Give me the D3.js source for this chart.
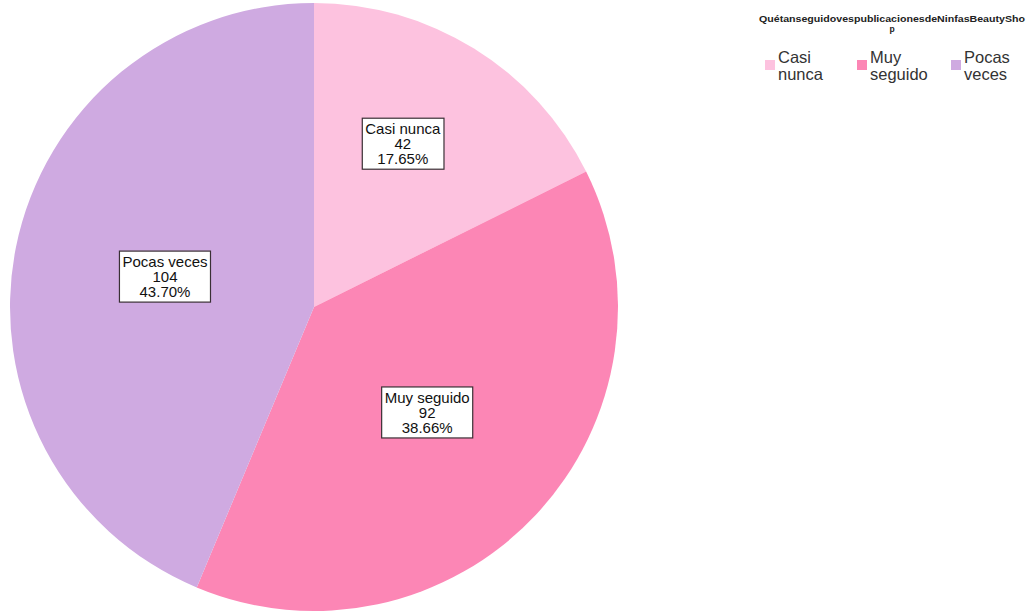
<!DOCTYPE html>
<html>
<head>
<meta charset="utf-8">
<script src="https://cdn.jsdelivr.net/npm/d3@7"></script>
<style>
  html, body { margin: 0; padding: 0; background: #ffffff; }
  svg { display: block; font-family: "Liberation Sans", Arial, sans-serif; }
</style>
</head>
<body>
<svg id="chart" width="1033" height="613"></svg>
<script>
// Responses to "¿Qué tan seguido ves publicaciones de Ninfas Beauty Shop?"
const categories = ["Casi nunca", "Muy seguido", "Pocas veces"];
const counts = [42, 92, 104];
const percentLabels = ["17.65%", "38.66%", "43.70%"];
const legendLines = [["Casi", "nunca"], ["Muy", "seguido"], ["Pocas", "veces"]];
const legendTitle = ["QuétanseguidovespublicacionesdeNinfasBeautySho", "p"];

const colors = ["#fdc2df", "#fc86b5", "#cfaae1"];

const svg = d3.select("#chart");
const cx = 314, cy = 307, R = 304;

const data = categories.map((c, i) => ({ cat: c, value: counts[i], pct: percentLabels[i], color: colors[i] }));

const pie = d3.pie().value(d => d.value).sort(null);
const arcs = pie(data);
const arc = d3.arc().innerRadius(0).outerRadius(R);

const g = svg.append("g").attr("transform", `translate(${cx},${cy})`);

g.selectAll("path.slice")
  .data(arcs)
  .join("path")
  .attr("class", "slice")
  .attr("d", arc)
  .attr("fill", d => d.data.color);

// label placement: radius fraction and small angular nudge (radians) per slice
const labelRadiusFrac = [0.61, 0.51, 0.5];
const labelAngleNudge = [-0.055, 0, 0];
const lineH = 15;
const labels = g.selectAll("g.lbl")
  .data(arcs)
  .join("g")
  .attr("class", "lbl")
  .attr("transform", (d, i) => {
    const a = (d.startAngle + d.endAngle) / 2 + labelAngleNudge[i];
    const r = R * labelRadiusFrac[i];
    return `translate(${r * Math.sin(a)},${-r * Math.cos(a)})`;
  });

labels.each(function(d) {
  const sel = d3.select(this);
  const lines = [d.data.cat, String(d.data.value), d.data.pct];
  const rect = sel.append("rect");
  const txt = sel.append("text")
    .attr("text-anchor", "middle")
    .attr("font-size", 15)
    .attr("fill", "#111");
  lines.forEach((l, k) => {
    txt.append("tspan")
      .attr("x", 0)
      .attr("y", (k - 1) * lineH + 5)
      .text(l);
  });
  const bb = txt.node().getBBox();
  rect.attr("x", bb.x - 3).attr("y", bb.y - 2)
    .attr("width", bb.width + 6).attr("height", bb.height + 4)
    .attr("fill", "#ffffff")
    .attr("stroke", "#3a3035")
    .attr("stroke-width", 1.2);
});

// Legend
const legend = svg.append("g");
const titleText = legend.append("text")
  .attr("text-anchor", "middle")
  .attr("font-size", 8.5)
  .attr("font-weight", "bold")
  .attr("fill", "#222");
titleText.append("tspan")
  .attr("x", 892).attr("y", 22)
  .attr("textLength", 266)
  .attr("lengthAdjust", "spacingAndGlyphs")
  .text(legendTitle[0]);
titleText.append("tspan")
  .attr("x", 892).attr("y", 32)
  .text(legendTitle[1]);

const itemX = [765, 857, 951];
const items = legend.selectAll("g.item")
  .data(data)
  .join("g")
  .attr("class", "item")
  .attr("transform", (d, i) => `translate(${itemX[i]},0)`);

items.append("rect")
  .attr("x", 0).attr("y", 60)
  .attr("width", 10).attr("height", 10)
  .attr("fill", d => d.color);

items.append("text")
  .attr("font-size", 16.5)
  .attr("fill", "#333")
  .selectAll("tspan")
  .data((d, i) => legendLines[i])
  .join("tspan")
  .attr("x", 13)
  .attr("y", (d, k) => 63 + k * 17)
  .text(d => d);
</script>
</body>
</html>
